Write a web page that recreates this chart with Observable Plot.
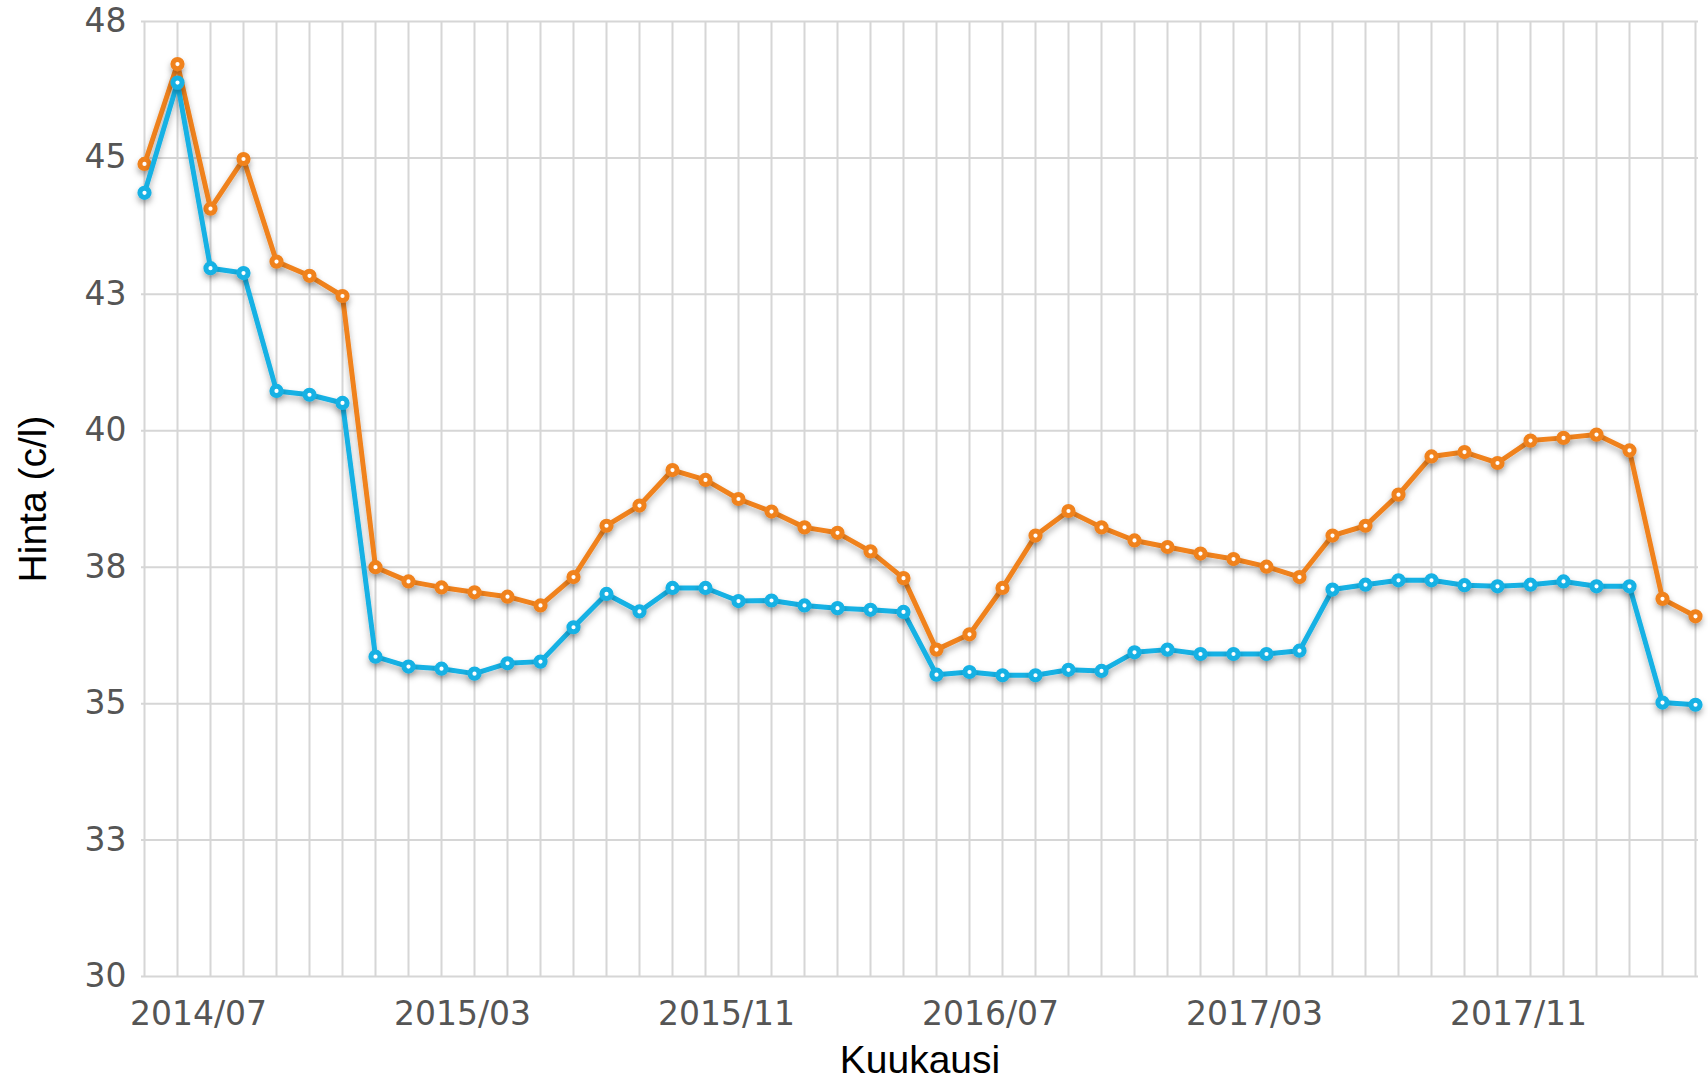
<!DOCTYPE html>
<html>
<head>
<meta charset="utf-8">
<script src="https://cdn.jsdelivr.net/npm/d3@7"></script>
<script src="https://cdn.jsdelivr.net/npm/@observablehq/plot@0.6"></script>
<style>
  html, body { margin: 0; padding: 0; background: #fff; }
  #chart svg { display: block; }
</style>
</head>
<body>
<div id="chart"></div>
<script>
const months = [
  "2014/06","2014/07","2014/08","2014/09","2014/10","2014/11","2014/12",
  "2015/01","2015/02","2015/03","2015/04","2015/05","2015/06","2015/07","2015/08","2015/09","2015/10","2015/11","2015/12",
  "2016/01","2016/02","2016/03","2016/04","2016/05","2016/06","2016/07","2016/08","2016/09","2016/10","2016/11","2016/12",
  "2017/01","2017/02","2017/03","2017/04","2017/05","2017/06","2017/07","2017/08","2017/09","2017/10","2017/11","2017/12",
  "2018/01","2018/02","2018/03","2018/04","2018/05"
];

const orangeValues = [
  44.89, 46.72, 44.07, 44.98, 43.10, 42.84, 42.47,
  37.50, 37.24, 37.13, 37.04, 36.96, 36.80, 37.32, 38.26, 38.63, 39.28, 39.10, 38.75,
  38.52, 38.23, 38.13, 37.79, 37.30, 35.99, 36.27, 37.12, 38.08, 38.53, 38.23, 37.99,
  37.87, 37.75, 37.65, 37.51, 37.32, 38.08, 38.26, 38.83, 39.53, 39.61, 39.41, 39.82,
  39.87, 39.93, 39.64, 36.92, 36.60
];

const blueValues = [
  44.36, 46.38, 42.98, 42.89, 40.73, 40.66, 40.51,
  35.86, 35.68, 35.64, 35.55, 35.74, 35.77, 36.40, 37.01, 36.69, 37.12, 37.12, 36.88,
  36.89, 36.80, 36.75, 36.72, 36.68, 35.53, 35.58, 35.52, 35.52, 35.62, 35.60, 35.94,
  35.99, 35.91, 35.91, 35.91, 35.97, 37.09, 37.18, 37.26, 37.26, 37.17, 37.15, 37.18,
  37.24, 37.15, 37.15, 35.02, 34.98
];

const yTicks = [30, 32.5, 35, 37.5, 40, 42.5, 45, 47.5];
const xTickLabels = ["2014/07", "2015/03", "2015/11", "2016/07", "2017/03", "2017/11"];

const xTitle = "Kuukausi";
const yTitle = "Hinta (c/l)";

const orangeColor = "#f0821f";
const blueColor = "#14b1e4";

const orangeData = months.map((m, i) => ({month: m, value: orangeValues[i]}));
const blueData = months.map((m, i) => ({month: m, value: blueValues[i]}));

const gridStyle = {stroke: "#d6d6d6", strokeOpacity: 1, strokeWidth: 2};

const chart = Plot.plot({
  width: 1708,
  height: 1082,
  marginTop: 21,
  marginBottom: 106,
  marginLeft: 141,
  marginRight: 10,
  style: {fontFamily: "DejaVu Sans", color: "#555", background: "#fff"},
  x: {type: "point", domain: months, padding: 0},
  y: {domain: [30, 47.5]},
  marks: [
    Plot.gridX(months, gridStyle),
    Plot.gridY(yTicks, gridStyle),
    Plot.axisY(yTicks, {
      tickSize: 0, tickPadding: 15, fontSize: 33,
      tickFormat: d => String(Math.round(d)), label: null
    }),
    Plot.axisX(xTickLabels, {
      tickSize: 0, tickPadding: 25, fontSize: 33, dx: 21, label: null
    }),
    Plot.line(orangeData, {x: "month", y: "value", stroke: orangeColor, strokeWidth: 5, strokeLinejoin: "round"}),
    Plot.dot(orangeData, {x: "month", y: "value", r: 4.6, fill: "#fff", stroke: orangeColor, strokeWidth: 5}),
    Plot.line(blueData, {x: "month", y: "value", stroke: blueColor, strokeWidth: 5, strokeLinejoin: "round"}),
    Plot.dot(blueData, {x: "month", y: "value", r: 4.6, fill: "#fff", stroke: blueColor, strokeWidth: 5}),
    Plot.text([xTitle], {
      text: d => d, frameAnchor: "bottom", dy: 84, fontSize: 39,
      fontFamily: "Liberation Sans", fill: "#000", textAnchor: "middle", lineAnchor: "middle"
    }),
    Plot.text([yTitle], {
      text: d => d, frameAnchor: "left", dx: -108, rotate: -90, fontSize: 39,
      fontFamily: "Liberation Sans", fill: "#000", textAnchor: "middle", lineAnchor: "middle"
    })
  ]
});

// soft drop shadow under the lines and markers
const svg = d3.select(chart);
const defs = svg.insert("defs", ":first-child");
const f = defs.append("filter").attr("id", "shadow")
  .attr("x", "-5%").attr("y", "-5%").attr("width", "110%").attr("height", "115%");
f.append("feDropShadow").attr("dx", 0).attr("dy", 4).attr("stdDeviation", 3)
  .attr("flood-color", "#000").attr("flood-opacity", 0.3);
svg.selectAll('g[aria-label="line"], g[aria-label="dot"]').attr("filter", "url(#shadow)");

document.getElementById("chart").appendChild(chart);
</script>
</body>
</html>
